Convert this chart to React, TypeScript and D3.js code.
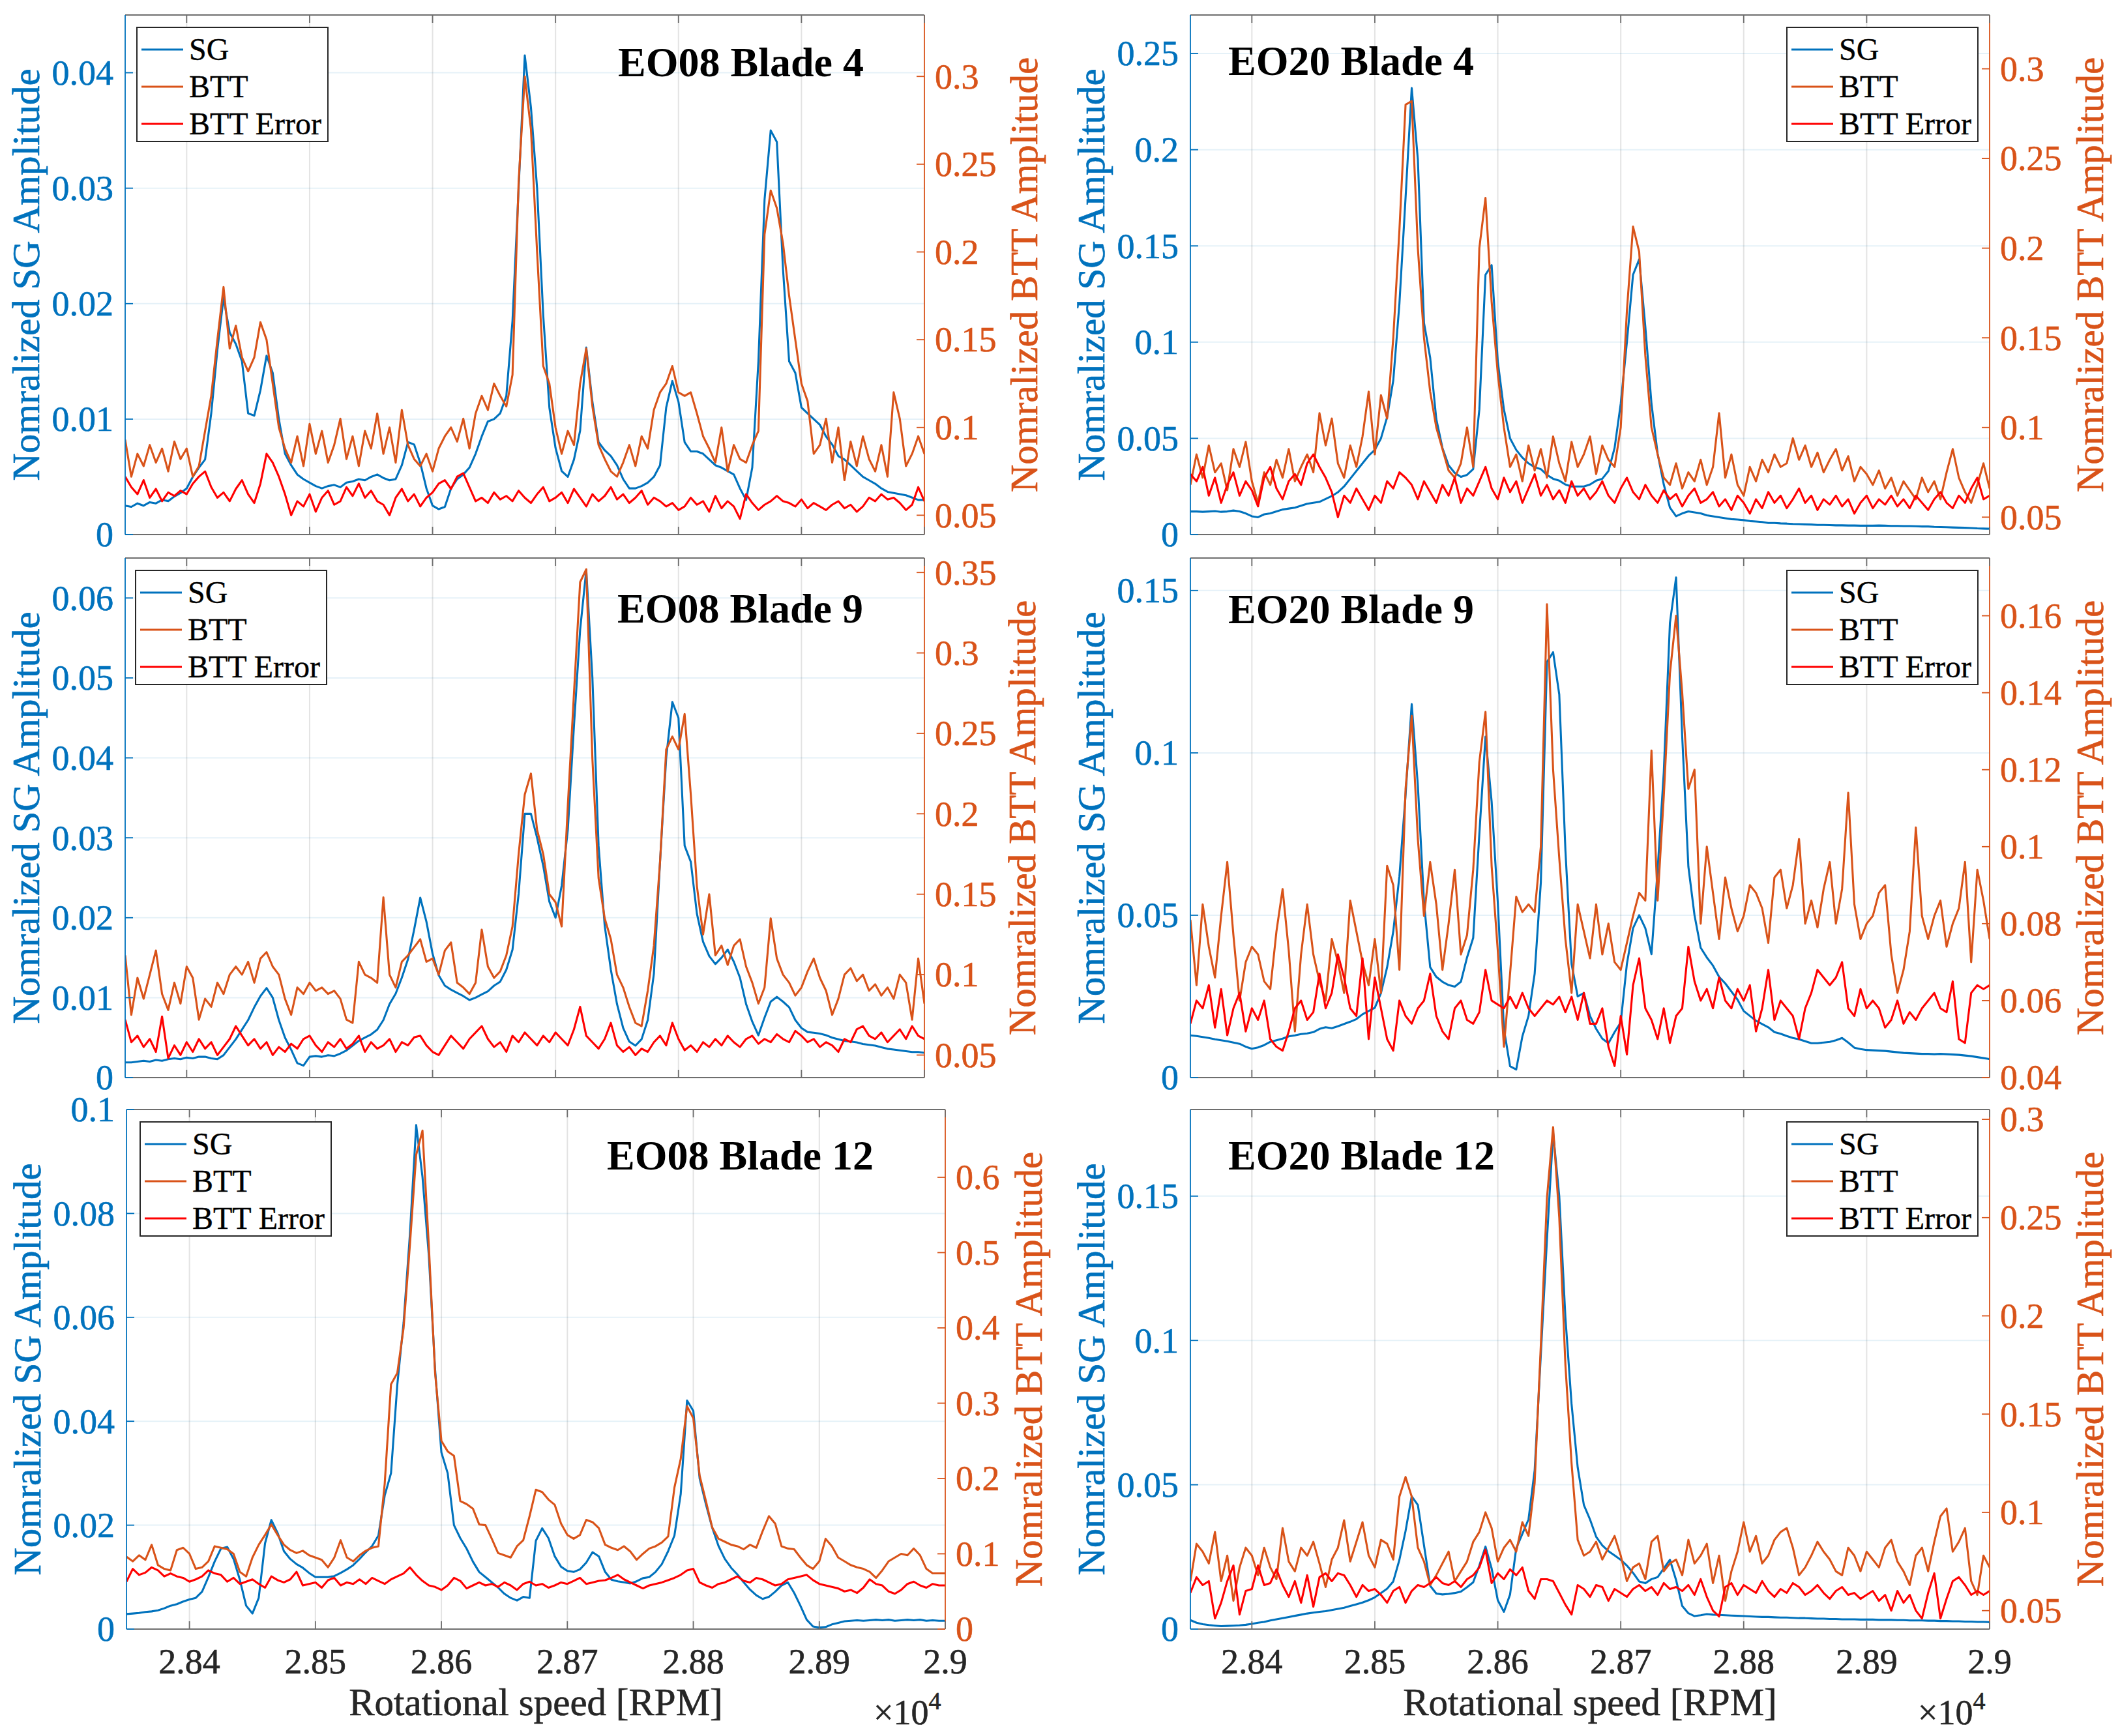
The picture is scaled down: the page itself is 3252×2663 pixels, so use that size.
import React from 'react';
import * as d3 from 'd3';

const W = 3252;
const H = 2663;
const SG_COLOR = '#0072BD';
const BTT_COLOR = '#D95319';
const ERR_COLOR = '#FF0000';
const AXIS_GREY = '#6e6e6e';
const FONT = '"Liberation Serif", "Times New Roman", Times, serif';

// rotational speed sweep: 28350 .. 29000 rpm, one sample every 5 rpm
const RPM_START = 28350;
const RPM_STEP = 5;
const X_DOMAIN = [28350, 29000];
const X_TICKS = [28400, 28500, 28600, 28700, 28800, 28900, 29000];

// ---------- EO08 Blade 4 ----------
const sgEO08B4 = [
  .0025, .0024, .0027, .0025, .0028, .0027, .0030, .0029, .0033, .0036,
  .0040, .0050, .0058, .0065, .0105, .0160, .0205, .0175, .0165, .0150,
  .0105, .0103, .0125, .0155, .0140, .0100, .0070, .0060, .0052, .0048,
  .0045, .0042, .0040, .0042, .0043, .0041, .0045, .0046, .0048, .0047,
  .0050, .0052, .0049, .0047, .0048, .0060, .0080, .0078, .0062, .0040,
  .0025, .0022, .0024, .0040, .0048, .0052, .0058, .0070, .0085, .0098,
  .0100, .0105, .0120, .0185, .0300, .0415, .0370, .0300, .0190, .0110,
  .0075, .0055, .0050, .0065, .0090, .0162, .0115, .0080, .0073, .0068,
  .0060, .0048, .0040, .0040, .0042, .0045, .0050, .0060, .0110, .0133,
  .0115, .0080, .0072, .0072, .0070, .0065, .0060, .0058, .0055, .0052,
  .0040, .0030, .0058, .0150, .0290, .0350, .0340, .0230, .0150, .0140,
  .0110, .0105, .0100, .0095, .0085, .0078, .0068, .0065, .0060, .0055,
  .0050, .0047, .0044, .0040, .0037, .0036, .0035, .0034, .0032, .0030,
  .0030,
];
const bttEO08B4 = [
  .093, .072, .085, .078, .090, .080, .088, .075, .092, .082,
  .088, .072, .078, .098, .118, .150, .180, .145, .158, .140,
  .132, .140, .160, .150, .125, .100, .088, .080, .095, .078,
  .102, .085, .098, .080, .090, .105, .082, .095, .078, .098,
  .088, .108, .085, .100, .080, .110, .090, .082, .078, .085,
  .075, .088, .095, .100, .092, .105, .088, .108, .118, .110,
  .125, .118, .112, .130, .240, .300, .270, .200, .135, .125,
  .100, .085, .098, .090, .125, .145, .112, .090, .082, .075,
  .072, .080, .090, .078, .095, .088, .110, .120, .125, .135,
  .120, .118, .120, .108, .095, .088, .080, .100, .075, .090,
  .082, .080, .090, .098, .210, .235, .225, .205, .175, .150,
  .125, .115, .085, .090, .105, .080, .100, .070, .092, .078,
  .095, .082, .075, .090, .072, .120, .105, .078, .085, .095,
  .085,
];
const errEO08B4 = [
  .072, .066, .062, .070, .060, .065, .058, .063, .061, .064,
  .062, .068, .072, .075, .066, .060, .063, .058, .065, .070,
  .062, .057, .068, .085, .080, .072, .062, .050, .058, .055,
  .062, .052, .060, .064, .056, .058, .066, .061, .068, .060,
  .064, .058, .056, .050, .060, .065, .058, .062, .055, .060,
  .063, .068, .070, .065, .072, .074, .066, .058, .060, .057,
  .063, .059, .061, .058, .064, .060, .057, .062, .066, .058,
  .060, .063, .057, .065, .060, .055, .062, .058, .061, .066,
  .059, .062, .057, .060, .064, .056, .060, .058, .055, .057,
  .053, .055, .060, .056, .058, .052, .061, .054, .058, .055,
  .048, .062, .057, .053, .056, .058, .061, .058, .057, .055,
  .059, .054, .057, .055, .053, .056, .058, .054, .056, .052,
  .055, .060, .058, .062, .059, .060, .057, .053, .056, .066,
  .058,
];

// ---------- EO20 Blade 4 ----------
const sgEO20B4 = [
  .012, .012, .0118, .012, .0122, .0118, .012, .0125, .012, .011,
  .0095, .009, .0105, .011, .012, .013, .0135, .014, .015, .016,
  .0165, .017, .0185, .020, .022, .025, .029, .033, .037, .041,
  .044, .050, .061, .080, .120, .175, .232, .195, .110, .092,
  .060, .045, .036, .032, .030, .031, .034, .065, .135, .140,
  .090, .065, .050, .044, .040, .037, .035, .034, .031, .029,
  .028, .026, .025, .025, .025, .026, .028, .029, .033, .045,
  .068, .100, .135, .143, .108, .068, .042, .026, .014, .0095,
  .011, .012, .0115, .011, .010, .0095, .009, .0085, .008, .0078,
  .0075, .007, .0068, .0065, .006, .006, .0058, .0057, .0055, .0054,
  .0053, .0052, .005, .005, .0049, .0048, .0048, .0047, .0047, .0046,
  .0046, .0046, .0047, .0046, .0045, .0045, .0044, .0044, .0043, .0042,
  .0042, .004, .0039, .0038, .0037, .0036, .0035, .0034, .0032, .0031,
  .003,
];
const bttEO20B4 = [
  .068, .085, .072, .090, .075, .080, .065, .088, .078, .092,
  .070, .058, .075, .068, .082, .072, .088, .070, .078, .085,
  .075, .108, .090, .105, .080, .072, .090, .078, .095, .120,
  .085, .118, .105, .150, .210, .280, .282, .200, .150, .120,
  .100, .088, .076, .072, .080, .100, .078, .200, .228, .170,
  .130, .100, .078, .085, .070, .090, .076, .088, .072, .095,
  .080, .070, .092, .078, .085, .095, .074, .090, .082, .078,
  .100, .165, .212, .198, .140, .100, .085, .072, .068, .080,
  .066, .075, .070, .082, .068, .078, .108, .072, .085, .068,
  .062, .078, .070, .082, .075, .085, .078, .080, .094, .082,
  .090, .078, .086, .075, .082, .088, .076, .084, .070, .078,
  .074, .068, .076, .066, .072, .062, .070, .065, .060, .072,
  .064, .070, .060, .075, .088, .072, .064, .058, .068, .080,
  .066,
];
const errEO20B4 = [
  .074, .070, .078, .062, .072, .058, .068, .075, .062, .070,
  .065, .056, .072, .078, .066, .060, .070, .074, .068, .080,
  .085, .078, .072, .064, .050, .062, .058, .066, .060, .054,
  .062, .058, .070, .066, .075, .072, .068, .060, .070, .064,
  .058, .068, .062, .072, .058, .066, .062, .070, .078, .066,
  .060, .072, .064, .070, .058, .066, .074, .062, .068, .060,
  .065, .058, .070, .062, .066, .060, .064, .070, .062, .058,
  .066, .072, .064, .060, .068, .062, .058, .065, .060, .063,
  .056, .062, .066, .058, .060, .064, .056, .060, .054, .062,
  .058, .052, .060, .055, .064, .058, .062, .055, .060, .066,
  .058, .062, .054, .060, .057, .062, .056, .060, .052, .058,
  .062, .055, .060, .057, .062, .056, .060, .055, .062, .058,
  .054, .060, .064, .058, .055, .062, .058, .066, .072, .060,
  .062,
];

// ---------- EO08 Blade 9 ----------
const sgEO08B9 = [
  .0019, .0019, .0020, .0021, .0020, .0022, .0021, .0023, .0024, .0023,
  .0025, .0024, .0026, .0026, .0024, .0023, .0028, .0038, .0048, .0060,
  .0072, .0088, .0102, .0112, .0100, .0072, .0050, .0035, .0018, .0015,
  .0026, .0027, .0026, .0028, .0027, .0030, .0034, .0040, .0046, .0050,
  .0054, .0060, .0072, .0092, .0105, .0125, .0148, .0185, .0225, .0195,
  .0155, .0128, .0115, .0110, .0106, .0102, .0097, .0100, .0104, .0108,
  .0115, .0120, .0135, .0160, .0230, .0330, .0330, .0300, .0265, .0220,
  .0200, .0240, .0310, .0440, .0560, .0635, .0500, .0290, .0190, .0135,
  .0092, .0062, .0045, .0040, .0048, .0072, .0130, .0270, .0400, .0470,
  .0450, .0290, .0270, .0205, .0170, .0152, .0142, .0150, .0160, .0145,
  .0125, .0092, .0070, .0053, .0075, .0095, .0101, .0095, .0088, .0072,
  .0062, .0057, .0056, .0055, .0053, .0050, .0048, .0046, .0045, .0044,
  .0042, .0041, .0040, .0038, .0036, .0035, .0034, .0033, .0032, .0032,
  .0031,
];
const bttEO08B9 = [
  .112, .075, .098, .085, .100, .115, .088, .078, .095, .082,
  .105, .098, .072, .085, .080, .095, .088, .100, .105, .100,
  .108, .095, .110, .114, .105, .100, .085, .075, .092, .088,
  .095, .090, .092, .088, .090, .085, .072, .070, .108, .100,
  .098, .095, .148, .100, .092, .108, .112, .117, .122, .108,
  .110, .100, .115, .120, .095, .092, .088, .095, .128, .105,
  .098, .102, .112, .130, .175, .212, .225, .190, .175, .150,
  .145, .130, .205, .275, .344, .352, .234, .160, .135, .122,
  .100, .092, .080, .070, .068, .090, .118, .170, .240, .248,
  .240, .262, .212, .155, .125, .150, .112, .118, .106, .118,
  .122, .105, .095, .082, .092, .135, .110, .100, .095, .087,
  .092, .102, .110, .098, .090, .075, .085, .100, .104, .096,
  .100, .090, .094, .087, .092, .085, .100, .095, .072, .110,
  .082,
];
const errEO08B9 = [
  .072, .058, .062, .055, .060, .052, .074, .048, .056, .050,
  .058, .052, .060, .054, .058, .050, .055, .060, .068, .062,
  .056, .060, .054, .058, .050, .055, .052, .057, .054, .060,
  .062, .056, .052, .058, .055, .060, .054, .057, .062, .052,
  .058, .054, .056, .060, .052, .058, .056, .061, .062, .056,
  .052, .050, .056, .062, .058, .054, .060, .064, .068, .060,
  .055, .058, .052, .062, .058, .064, .060, .056, .062, .058,
  .064, .060, .056, .066, .080, .062, .058, .054, .060, .070,
  .056, .052, .055, .050, .054, .052, .058, .062, .056, .070,
  .060, .053, .056, .052, .058, .055, .060, .056, .062, .058,
  .055, .060, .062, .057, .060, .058, .063, .060, .058, .065,
  .062, .058, .060, .055, .058, .056, .052, .060, .058, .066,
  .068, .062, .060, .064, .058, .062, .066, .060, .068, .062,
  .060,
];

// ---------- EO20 Blade 9 ----------
const sgEO20B9 = [
  .0130, .0128, .0125, .0122, .0118, .0115, .0112, .0108, .0104, .0095,
  .0089, .0093, .0100, .0110, .0115, .0120, .0127, .0130, .0134, .0136,
  .0140, .0150, .0155, .0152, .0158, .0165, .0172, .0180, .0195, .0205,
  .0215, .0260, .0340, .0450, .0620, .0870, .1150, .0900, .0540, .0340,
  .0310, .0295, .0285, .0280, .0295, .0370, .0430, .0750, .1050, .0850,
  .0540, .0150, .0035, .0025, .0127, .0190, .0320, .0600, .1280, .1310,
  .1180, .0700, .0350, .0250, .0260, .0190, .0150, .0120, .0106, .0140,
  .0170, .0350, .0460, .0500, .0460, .0380, .0640, .0940, .1400, .1540,
  .1050, .0650, .0500, .0400, .0370, .0345, .0310, .0290, .0265, .0240,
  .0205, .0190, .0175, .0165, .0155, .0140, .0135, .0128, .0122, .0118,
  .0112, .0106, .0106, .0108, .0110, .0115, .0122, .0108, .0092, .0088,
  .0085, .0084, .0083, .0082, .0080, .0078, .0076, .0075, .0074, .0073,
  .0073, .0072, .0073, .0072, .0071, .0070, .0068, .0066, .0063, .0060,
  .0057,
];
const bttEO20B9 = [
  .081, .064, .085, .074, .066, .082, .096, .077, .060, .070,
  .074, .072, .065, .063, .078, .089, .073, .052, .072, .085,
  .072, .065, .060, .076, .070, .062, .086, .078, .070, .064,
  .076, .062, .095, .090, .068, .115, .134, .102, .082, .096,
  .085, .068, .080, .094, .072, .077, .094, .122, .135, .095,
  .073, .048, .067, .087, .083, .085, .083, .100, .163, .120,
  .097, .076, .062, .085, .078, .071, .085, .072, .080, .070,
  .068, .075, .082, .088, .086, .125, .086, .113, .145, .160,
  .140, .115, .120, .080, .100, .088, .076, .092, .084, .078,
  .082, .090, .088, .084, .075, .092, .094, .084, .090, .102,
  .080, .086, .079, .089, .096, .080, .089, .114, .085, .076,
  .080, .082, .088, .090, .072, .062, .068, .078, .105, .082,
  .076, .082, .086, .074, .080, .084, .096, .070, .094, .086,
  .076,
];
const errEO20B9 = [
  .054, .060, .058, .064, .053, .063, .051, .058, .062, .052,
  .058, .055, .060, .050, .048, .047, .052, .058, .060, .055,
  .057, .067, .058, .062, .072, .066, .058, .056, .071, .050,
  .066, .058, .050, .047, .060, .056, .054, .058, .060, .067,
  .056, .052, .050, .058, .060, .055, .054, .057, .068, .060,
  .059, .058, .061, .058, .062, .058, .056, .058, .060, .059,
  .061, .057, .061, .055, .062, .054, .054, .058, .048, .043,
  .056, .046, .064, .071, .058, .055, .050, .058, .049, .056,
  .058, .074, .065, .060, .063, .058, .066, .060, .058, .063,
  .060, .064, .052, .058, .068, .055, .060, .058, .056, .050,
  .058, .062, .068, .066, .064, .066, .070, .058, .056, .063,
  .058, .060, .058, .053, .055, .060, .054, .057, .055, .058,
  .060, .062, .058, .057, .065, .050, .049, .062, .064, .063,
  .064,
];

// ---------- EO08 Blade 12 ----------
const sgEO08B12 = [
  .0029, .0030, .0031, .0033, .0034, .0036, .0040, .0045, .0048, .0053,
  .0057, .0060, .0072, .0100, .0130, .0155, .0158, .0135, .0095, .0045,
  .0030, .0060, .0165, .0210, .0185, .0150, .0135, .0125, .0118, .0108,
  .0100, .0100, .0100, .0102, .0108, .0115, .0123, .0135, .0148, .0160,
  .0180, .0257, .0300, .0470, .0590, .0760, .0970, .0870, .0720, .0500,
  .0340, .0300, .0200, .0175, .0155, .0130, .0110, .0100, .0090, .0080,
  .0068, .0060, .0055, .0062, .0060, .0170, .0194, .0175, .0140, .0120,
  .0112, .0110, .0115, .0128, .0148, .0140, .0110, .0095, .0092, .0090,
  .0088, .0092, .0098, .0100, .0110, .0125, .0150, .0180, .0260, .0440,
  .0420, .0290, .0240, .0195, .0160, .0135, .0118, .0105, .0090, .0076,
  .0065, .0058, .0062, .0072, .0084, .0090, .0070, .0045, .0018, .0005,
  .0003, .0004, .0009, .0012, .0015, .0016, .0017, .0016, .0017, .0018,
  .0017, .0018, .0016, .0017, .0018, .0017, .0018, .0016, .0017, .0016,
  .0016,
];
const bttEO08B12 = [
  .096, .090, .098, .092, .112, .085, .080, .078, .105, .108,
  .100, .080, .082, .090, .110, .108, .106, .100, .076, .070,
  .095, .112, .125, .139, .125, .112, .105, .101, .104, .098,
  .095, .092, .082, .095, .118, .095, .090, .098, .104, .108,
  .110, .193, .325, .340, .400, .510, .630, .662, .510, .340,
  .250, .236, .230, .170, .166, .160, .139, .138, .120, .101,
  .098, .095, .110, .118, .150, .185, .182, .172, .165, .140,
  .125, .120, .125, .145, .142, .134, .112, .108, .105, .110,
  .103, .092, .100, .107, .110, .115, .123, .188, .226, .296,
  .280, .204, .170, .135, .120, .116, .112, .110, .106, .112,
  .108, .130, .150, .140, .110, .107, .106, .095, .085, .080,
  .090, .120, .110, .095, .090, .085, .082, .080, .076, .068,
  .078, .090, .095, .100, .098, .107, .098, .080, .074, .074,
  .074,
];
const errEO08B12 = [
  .063, .080, .072, .075, .082, .078, .070, .074, .070, .068,
  .063, .066, .070, .078, .074, .072, .063, .068, .060, .063,
  .066, .060, .055, .070, .065, .062, .066, .076, .058, .060,
  .062, .055, .065, .068, .058, .062, .060, .066, .060, .068,
  .064, .060, .066, .070, .074, .082, .072, .064, .058, .056,
  .052, .058, .068, .064, .054, .058, .062, .058, .060, .056,
  .062, .058, .052, .060, .063, .058, .060, .055, .058, .062,
  .060, .064, .068, .060, .062, .064, .065, .068, .072, .066,
  .062, .058, .054, .058, .060, .062, .065, .068, .072, .078,
  .080, .062, .058, .055, .060, .062, .066, .070, .064, .062,
  .068, .066, .062, .058, .060, .066, .068, .070, .072, .065,
  .060, .058, .056, .054, .050, .052, .048, .055, .066, .060,
  .058, .050, .047, .052, .060, .063, .058, .055, .060, .058,
  .058,
];

// ---------- EO20 Blade 12 ----------
const sgEO20B12 = [
  .0031, .0022, .0017, .0014, .0012, .0010, .0011, .0012, .0013, .0015,
  .0018, .0022, .0025, .0030, .0034, .0038, .0042, .0046, .0050, .0054,
  .0057, .0060, .0062, .0066, .0070, .0074, .0080, .0086, .0092, .0100,
  .0110, .0125, .0140, .0165, .0240, .0340, .0460, .0430, .0290, .0150,
  .0123, .0120, .0122, .0125, .0130, .0145, .0162, .0220, .0286, .0210,
  .0100, .0060, .0120, .0280, .0330, .0380, .0550, .0950, .1350, .1720,
  .1500, .1080, .0780, .0560, .0430, .0380, .0320, .0290, .0270, .0255,
  .0240, .0220, .0195, .0165, .0159, .0173, .0180, .0210, .0240, .0170,
  .0080, .0055, .0045, .0048, .0052, .0050, .0049, .0048, .0047, .0046,
  .0045, .0044, .0043, .0042, .0042, .0041, .0040, .0040, .0039, .0038,
  .0038, .0037, .0036, .0036, .0035, .0035, .0034, .0034, .0034, .0033,
  .0033, .0033, .0032, .0032, .0032, .0031, .0031, .0030, .0030, .0030,
  .0029, .0029, .0028, .0028, .0027, .0027, .0026, .0026, .0025, .0025,
  .0024,
];
const bttEO20B12 = [
  .065, .084, .080, .074, .090, .065, .078, .055, .072, .082,
  .078, .068, .082, .072, .066, .092, .075, .070, .082, .078,
  .085, .074, .062, .076, .082, .096, .075, .085, .095, .078,
  .072, .086, .084, .076, .108, .118, .108, .082, .075, .063,
  .068, .074, .080, .065, .070, .075, .085, .090, .100, .092,
  .075, .082, .086, .080, .095, .088, .115, .185, .260, .296,
  .250, .175, .125, .086, .078, .080, .085, .076, .082, .088,
  .078, .065, .072, .074, .066, .085, .088, .070, .074, .076,
  .068, .086, .074, .078, .084, .064, .078, .055, .070, .080,
  .095, .080, .088, .074, .078, .086, .090, .092, .082, .068,
  .072, .078, .085, .080, .076, .070, .068, .082, .078, .070,
  .080, .076, .072, .082, .086, .075, .070, .063, .078, .082,
  .070, .085, .098, .102, .080, .085, .092, .065, .058, .078,
  .072,
];
const errEO20B12 = [
  .059, .067, .063, .065, .046, .054, .065, .073, .048, .060,
  .061, .073, .063, .064, .071, .063, .057, .065, .054, .068,
  .052, .067, .069, .065, .069, .068, .063, .057, .063, .060,
  .061, .058, .054, .060, .062, .054, .060, .063, .062, .064,
  .067, .064, .063, .065, .062, .066, .068, .072, .081, .064,
  .069, .066, .071, .068, .072, .060, .056, .066, .066, .065,
  .059, .053, .048, .063, .061, .057, .063, .062, .055, .061,
  .059, .057, .061, .063, .060, .062, .058, .064, .061, .062,
  .060, .063, .058, .066, .057, .050, .047, .062, .064, .058,
  .063, .061, .059, .065, .060, .057, .061, .059, .064, .062,
  .058, .060, .063, .059, .056, .060, .062, .058, .059, .056,
  .058, .060, .055, .058, .050, .060, .054, .058, .050, .046,
  .059, .069, .046, .056, .065, .067, .063, .058, .060, .058,
  .060,
];

// axis ranges and ticks per panel
const titles = ['EO08 Blade 4', 'EO20 Blade 4', 'EO08 Blade 9', 'EO20 Blade 9', 'EO08 Blade 12', 'EO20 Blade 12'];
const sgSeries = [sgEO08B4, sgEO20B4, sgEO08B9, sgEO20B9, sgEO08B12, sgEO20B12];
const bttSeries = [bttEO08B4, bttEO20B4, bttEO08B9, bttEO20B9, bttEO08B12, bttEO20B12];
const errSeries = [errEO08B4, errEO20B4, errEO08B9, errEO20B9, errEO08B12, errEO20B12];
const leftDomains = [[0, 0.045], [0, 0.27], [0, 0.065], [0, 0.16], [0, 0.1], [0, 0.18]];
const rightDomains = [[0.039, 0.335], [0.0403, 0.33], [0.036, 0.359], [0.04, 0.175], [0, 0.69], [0.0406, 0.305]];
const leftTicks = [
  [0, 0.01, 0.02, 0.03, 0.04],
  [0, 0.05, 0.1, 0.15, 0.2, 0.25],
  [0, 0.01, 0.02, 0.03, 0.04, 0.05, 0.06],
  [0, 0.05, 0.1, 0.15],
  [0, 0.02, 0.04, 0.06, 0.08, 0.1],
  [0, 0.05, 0.1, 0.15],
];
const rightTicks = [
  [0.05, 0.1, 0.15, 0.2, 0.25, 0.3],
  [0.05, 0.1, 0.15, 0.2, 0.25, 0.3],
  [0.05, 0.1, 0.15, 0.2, 0.25, 0.3, 0.35],
  [0.04, 0.06, 0.08, 0.1, 0.12, 0.14, 0.16],
  [0, 0.1, 0.2, 0.3, 0.4, 0.5, 0.6],
  [0.05, 0.1, 0.15, 0.2, 0.25, 0.3],
];
const legendLabels = ['SG', 'BTT', 'BTT Error'];
const legendColors = [SG_COLOR, BTT_COLOR, ERR_COLOR];

// page layout of the six axes
const layout = [
  { x0: 192, x1: 1418, y0: 23, y1: 820, tx: 948, ty: 117, legendX: 210, rLab: 173, bottom: false },
  { x0: 1826, x1: 3052, y0: 23, y1: 820, tx: 1884, ty: 115, legendX: 2741, rLab: 174, bottom: false },
  { x0: 192, x1: 1418, y0: 856, y1: 1653, tx: 947, ty: 955, legendX: 208, rLab: 170, bottom: false },
  { x0: 1826, x1: 3052, y0: 856, y1: 1653, tx: 1884, ty: 956, legendX: 2741, rLab: 174, bottom: false },
  { x0: 194, x1: 1450, y0: 1702, y1: 2499, tx: 931, ty: 1794, legendX: 215, rLab: 148, bottom: true },
  { x0: 1826, x1: 3052, y0: 1702, y1: 2499, tx: 1884, ty: 1794, legendX: 2741, rLab: 174, bottom: true },
];

const fmt = (v: number) => String(+v.toFixed(4));
const TICK_LEN = 12;
const AXW = 1.8;
const txt = (color: string) => ({ fill: color, stroke: color, strokeWidth: 0.6, fontFamily: FONT });

function Panel({ i }: { i: number }) {
  const L = layout[i];
  const x = d3.scaleLinear().domain(X_DOMAIN).range([L.x0, L.x1]);
  const yL = d3.scaleLinear().domain(leftDomains[i]).range([L.y1, L.y0]);
  const yR = d3.scaleLinear().domain(rightDomains[i]).range([L.y1, L.y0]);
  const path = (vals: number[], y: d3.ScaleLinear<number, number>) =>
    d3.line<number>().x((_, k) => x(RPM_START + k * RPM_STEP)).y((v) => y(v))(vals) || '';
  const clipId = `clip${i}`;
  const cy = (L.y0 + L.y1) / 2;
  const legY = L.y0 + 19;

  return (
    <g>
      <defs>
        <clipPath id={clipId}>
          <rect x={L.x0} y={L.y0} width={L.x1 - L.x0} height={L.y1 - L.y0} />
        </clipPath>
      </defs>
      {/* grid */}
      {X_TICKS.filter((t) => t < X_DOMAIN[1]).map((t) => (
        <line key={'gx' + t} x1={x(t)} x2={x(t)} y1={L.y0} y2={L.y1} stroke="#262626" strokeOpacity={0.13} strokeWidth={2} />
      ))}
      {leftTicks[i].filter((t) => t > leftDomains[i][0] && t < leftDomains[i][1]).map((t) => (
        <line key={'gy' + t} x1={L.x0} x2={L.x1} y1={yL(t)} y2={yL(t)} stroke={SG_COLOR} strokeOpacity={0.1} strokeWidth={2} />
      ))}
      {/* data */}
      <g clipPath={`url(#${clipId})`} fill="none" strokeWidth={3.1} strokeLinejoin="round">
        <path d={path(sgSeries[i], yL)} stroke={SG_COLOR} />
        <path d={path(bttSeries[i], yR)} stroke={BTT_COLOR} />
        <path d={path(errSeries[i], yR)} stroke={ERR_COLOR} />
      </g>
      {/* box */}
      <line x1={L.x0} x2={L.x1} y1={L.y0} y2={L.y0} stroke={AXIS_GREY} strokeWidth={AXW} />
      <line x1={L.x0} x2={L.x1} y1={L.y1} y2={L.y1} stroke={AXIS_GREY} strokeWidth={AXW} />
      <line x1={L.x0} x2={L.x0} y1={L.y0} y2={L.y1} stroke={SG_COLOR} strokeWidth={AXW} />
      <line x1={L.x1} x2={L.x1} y1={L.y0} y2={L.y1} stroke={BTT_COLOR} strokeWidth={AXW} />
      {/* x ticks */}
      {X_TICKS.map((t) => (
        <g key={'xt' + t}>
          <line x1={x(t)} x2={x(t)} y1={L.y1} y2={L.y1 - TICK_LEN} stroke={AXIS_GREY} strokeWidth={AXW} />
          <line x1={x(t)} x2={x(t)} y1={L.y0} y2={L.y0 + TICK_LEN} stroke={AXIS_GREY} strokeWidth={AXW} />
          {L.bottom && (
            <text x={x(t)} y={L.y1 + 68} textAnchor="middle" fontSize={54} {...txt('#262626')}>
              {String(+(t / 1e4).toFixed(2))}
            </text>
          )}
        </g>
      ))}
      {/* left axis */}
      {leftTicks[i].map((t) => (
        <g key={'lt' + t}>
          <line x1={L.x0} x2={L.x0 + TICK_LEN} y1={yL(t)} y2={yL(t)} stroke={SG_COLOR} strokeWidth={AXW} />
          <text x={L.x0 - 18} y={yL(t)} dy="0.34em" textAnchor="end" fontSize={54} {...txt(SG_COLOR)}>
            {fmt(t)}
          </text>
        </g>
      ))}
      {/* right axis */}
      {rightTicks[i].map((t) => (
        <g key={'rt' + t}>
          <line x1={L.x1} x2={L.x1 - TICK_LEN} y1={yR(t)} y2={yR(t)} stroke={BTT_COLOR} strokeWidth={AXW} />
          <text x={L.x1 + 16} y={yR(t)} dy="0.34em" textAnchor="start" fontSize={54} {...txt(BTT_COLOR)}>
            {fmt(t)}
          </text>
        </g>
      ))}
      <text transform={`translate(${L.x0 - 132},${cy}) rotate(-90)`} textAnchor="middle" fontSize={59} {...txt(SG_COLOR)}>
        Nomralized SG Amplitude
      </text>
      <text transform={`translate(${L.x1 + L.rLab},${cy}) rotate(-90)`} textAnchor="middle" fontSize={59} {...txt(BTT_COLOR)}>
        Nomralized BTT Amplitude
      </text>
      {L.bottom && (
        <>
          <text x={(L.x0 + L.x1) / 2} y={L.y1 + 132} textAnchor="middle" fontSize={59} {...txt('#262626')}>
            Rotational speed [RPM]
          </text>
          <text x={L.x1 - 110} y={L.y1 + 146} fontSize={54} {...txt('#262626')}>
            ×10<tspan fontSize={38} dy={-23}>4</tspan>
          </text>
        </>
      )}
      {/* title */}
      <text x={L.tx} y={L.ty} fontSize={64} fontWeight="bold" fill="#000" fontFamily={FONT}>
        {titles[i]}
      </text>
      {/* legend */}
      <rect x={L.legendX} y={legY} width={293} height={175} fill="#fff" stroke="#262626" strokeWidth={2} />
      {legendLabels.map((lab, k) => (
        <g key={lab}>
          <line x1={L.legendX + 7} x2={L.legendX + 71} y1={legY + 34 + 57 * k} y2={legY + 34 + 57 * k} stroke={legendColors[k]} strokeWidth={3.1} />
          <text x={L.legendX + 80} y={legY + 50 + 57 * k} fontSize={48} {...txt('#000')} strokeWidth={0.4}>
            {lab}
          </text>
        </g>
      ))}
    </g>
  );
}

export default function App() {
  return (
    <svg
      width={W}
      height={H}
      viewBox={`0 0 ${W} ${H}`}
      style={{ position: 'absolute', left: 0, top: 0, background: '#fff' }}
      fontFamily={FONT}
    >
      <rect width={W} height={H} fill="#fff" />
      {layout.map((_, i) => (
        <Panel key={i} i={i} />
      ))}
    </svg>
  );
}
